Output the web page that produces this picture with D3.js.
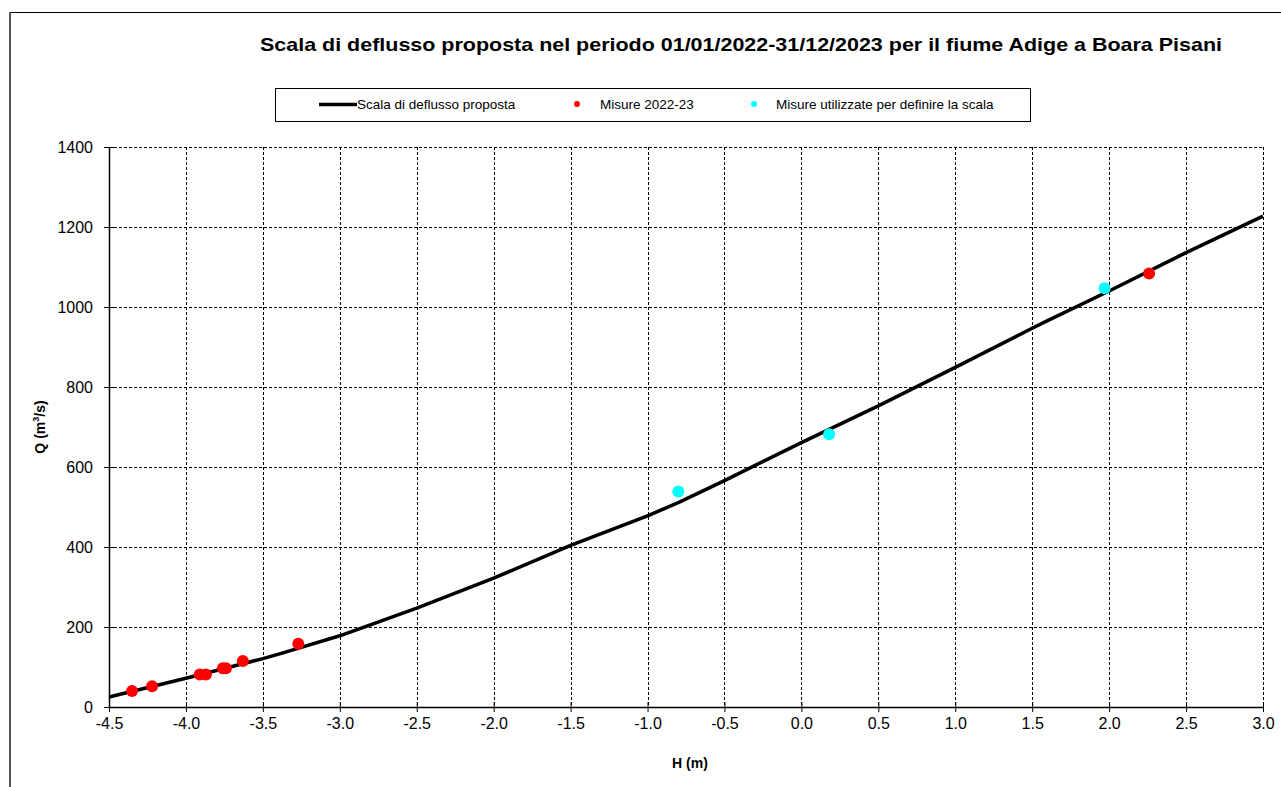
<!DOCTYPE html>
<html>
<head>
<meta charset="utf-8">
<script src="https://cdn.jsdelivr.net/npm/d3@7"></script>
<style>
  html, body { margin: 0; padding: 0; background: #fff; }
  svg { display: block; font-family: "Liberation Sans", Arial, sans-serif; }
</style>
</head>
<body>
<svg id="chart" width="1281" height="787"></svg>
<script>
// ---- data ----
const titleText = "Scala di deflusso proposta nel periodo 01/01/2022-31/12/2023 per il fiume Adige a Boara Pisani";
const seriesNames = ["Scala di deflusso proposta", "Misure 2022-23", "Misure utilizzate per definire la scala"];

// proposed rating curve
const curveH = [-4.5, -4.0, -3.5, -3.38, -3.0, -2.5, -2.0, -1.5, -1.0, -0.8, -0.5, 0.0, 0.5, 1.0, 1.5, 1.6, 2.0, 2.5, 3.0];
const curveQ = [25, 72, 121, 134, 178, 247, 322, 404, 478, 511, 566, 661, 753, 849, 947, 966, 1040, 1136, 1227];

// measurements 2022-23
const misureH = [-4.35, -4.22, -3.91, -3.87, -3.76, -3.74, -3.63, -3.27, 2.26];
const misureQ = [40, 52, 81, 81, 97, 97, 115, 158, 1084];

// measurements used to define the curve
const scalaH = [-0.80, 0.18, 1.97];
const scalaQ = [539, 682, 1047];

const xTicks = [-4.5, -4.0, -3.5, -3.0, -2.5, -2.0, -1.5, -1.0, -0.5, 0.0, 0.5, 1.0, 1.5, 2.0, 2.5, 3.0];
const yTicks = [0, 200, 400, 600, 800, 1000, 1200, 1400];

// ---- layout ----
const svg = d3.select("#chart");
const X0 = 109, X1 = 1263, Y0 = 707, Y1 = 147;
const x = d3.scaleLinear().domain([-4.5, 3.0]).range([X0, X1]);
const y = d3.scaleLinear().domain([0, 1400]).range([Y0, Y1]);

// outer frame
svg.append("line").attr("x1", 10).attr("x2", 1281).attr("y1", 12.5).attr("y2", 12.5)
  .attr("stroke", "#000").attr("stroke-width", 1);
svg.append("line").attr("x1", 10).attr("x2", 10).attr("y1", 12).attr("y2", 787)
  .attr("stroke", "#555").attr("stroke-width", 2);

// title
svg.append("text").attr("x", 741).attr("y", 51).attr("text-anchor", "middle")
  .attr("font-size", 19).attr("font-weight", "bold")
  .attr("textLength", 962).attr("lengthAdjust", "spacingAndGlyphs").text(titleText);

// gridlines
const grid = svg.append("g").attr("stroke", "#000").attr("stroke-width", 1).attr("stroke-dasharray", "3,2");
grid.selectAll("line.v").data(xTicks.filter(d => d !== -4.5)).join("line")
  .attr("x1", d => Math.round(x(d)) + 0.5).attr("x2", d => Math.round(x(d)) + 0.5)
  .attr("y1", Y1).attr("y2", Y0);
grid.selectAll("line.h").data(yTicks.filter(d => d !== 0)).join("line")
  .attr("x1", X0).attr("x2", X1)
  .attr("y1", d => Math.round(y(d)) + 0.5).attr("y2", d => Math.round(y(d)) + 0.5);

// axes
const xAxis = d3.axisBottom(x).tickValues(xTicks).tickFormat(d => d.toFixed(1)).tickSizeInner(5).tickSizeOuter(0);
const gx = svg.append("g").attr("transform", `translate(0,${Y0})`).call(xAxis);
gx.select(".domain").attr("stroke", "#000").attr("stroke-width", 1.5);
gx.selectAll(".tick line").attr("y1", -5).attr("stroke", "#000");
gx.selectAll(".tick text").attr("font-size", 16).attr("font-family", "Liberation Sans, Arial, sans-serif")
  .attr("fill", "#000").attr("y", 9).attr("dy", "0.8em");

const yAxis = d3.axisLeft(y).tickValues(yTicks).tickFormat(d => String(d)).tickSizeInner(5).tickSizeOuter(0);
const gy = svg.append("g").attr("transform", `translate(${X0},0)`).call(yAxis);
gy.select(".domain").attr("stroke", "#000").attr("stroke-width", 1.5);
gy.selectAll(".tick line").attr("x1", 5).attr("stroke", "#000");
gy.selectAll(".tick text").attr("font-size", 16).attr("font-family", "Liberation Sans, Arial, sans-serif")
  .attr("fill", "#000").attr("x", -16);

// axis titles
svg.append("text").attr("x", 690).attr("y", 768).attr("text-anchor", "middle")
  .attr("font-size", 14).attr("font-weight", "bold").text("H (m)");
const yl = svg.append("text").attr("transform", "translate(45,427) rotate(-90)").attr("text-anchor", "middle")
  .attr("font-size", 14).attr("font-weight", "bold");
yl.append("tspan").text("Q (m");
yl.append("tspan").attr("font-size", 9).attr("dy", -6).text("3");
yl.append("tspan").attr("dy", 6).text("/s)");

// curve
const curveData = curveH.map((h, i) => ({ h, q: curveQ[i] }));
const line = d3.line().x(d => x(d.h)).y(d => y(d.q));
svg.append("path").datum(curveData).attr("d", line)
  .attr("fill", "none").attr("stroke", "#000").attr("stroke-width", 3.5).attr("stroke-linejoin", "round");

// points
const misure = misureH.map((h, i) => ({ h, q: misureQ[i] }));
const scala = scalaH.map((h, i) => ({ h, q: scalaQ[i] }));
svg.append("g").selectAll("circle").data(misure).join("circle")
  .attr("cx", d => x(d.h)).attr("cy", d => y(d.q)).attr("r", 6).attr("fill", "#ff0000");
svg.append("g").selectAll("circle").data(scala).join("circle")
  .attr("cx", d => x(d.h)).attr("cy", d => y(d.q)).attr("r", 6).attr("fill", "#00ffff");

// legend
const lg = svg.append("g");
lg.append("rect").attr("x", 275.5).attr("y", 88.5).attr("width", 755).attr("height", 33)
  .attr("fill", "#fff").attr("stroke", "#000").attr("stroke-width", 1);
lg.append("line").attr("x1", 319).attr("x2", 357).attr("y1", 104.5).attr("y2", 104.5)
  .attr("stroke", "#000").attr("stroke-width", 3.5);
lg.append("text").attr("x", 357).attr("y", 109).attr("font-size", 13.5).text(seriesNames[0]);
lg.append("circle").attr("cx", 577).attr("cy", 104).attr("r", 3).attr("fill", "#ff0000");
lg.append("text").attr("x", 600).attr("y", 109).attr("font-size", 13.5).text(seriesNames[1]);
lg.append("circle").attr("cx", 754).attr("cy", 104).attr("r", 3).attr("fill", "#00ffff");
lg.append("text").attr("x", 776).attr("y", 109).attr("font-size", 13.5).text(seriesNames[2]);
</script>
</body>
</html>
